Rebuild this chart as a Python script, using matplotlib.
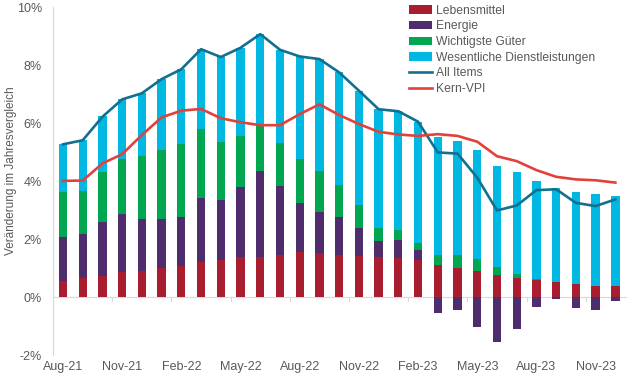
import numpy as np
import matplotlib
matplotlib.use("Agg")
import matplotlib.pyplot as plt
from matplotlib.ticker import FuncFormatter

months = ["Aug-21", "Sep-21", "Oct-21", "Nov-21", "Dec-21", "Jan-22", "Feb-22", "Mar-22",
          "Apr-22", "May-22", "Jun-22", "Jul-22", "Aug-22", "Sep-22", "Oct-22", "Nov-22",
          "Dec-22", "Jan-23", "Feb-23", "Mar-23", "Apr-23", "May-23", "Jun-23", "Jul-23",
          "Aug-23", "Sep-23", "Oct-23", "Nov-23", "Dec-23"]

# Beiträge zur Jahresteuerung (Prozentpunkte)
lebensmittel = [0.54, 0.66, 0.74, 0.86, 0.89, 0.99, 1.09, 1.22, 1.29, 1.37, 1.40, 1.47, 1.55, 1.52,
                1.47, 1.42, 1.40, 1.36, 1.27, 1.12, 1.02, 0.89, 0.77, 0.65, 0.58, 0.51, 0.44, 0.40, 0.37]
energie = [1.52, 1.51, 1.85, 2.02, 1.80, 1.69, 1.66, 2.19, 2.07, 2.42, 2.95, 2.36, 1.70, 1.41,
           1.29, 0.97, 0.53, 0.62, 0.37, -0.55, -0.44, -1.02, -1.56, -1.11, -0.33, -0.06, -0.39, -0.43, -0.15]
gueter = [1.57, 1.48, 1.71, 1.90, 2.17, 2.38, 2.53, 2.39, 2.00, 1.78, 1.55, 1.48, 1.50, 1.42,
          1.10, 0.78, 0.46, 0.32, 0.24, 0.35, 0.45, 0.44, 0.27, 0.16, 0.06, 0.0, 0.0, 0.0, 0.02]
dienste = [1.64, 1.76, 1.95, 2.04, 2.17, 2.46, 2.58, 2.75, 2.92, 3.03, 3.17, 3.22, 3.55, 3.86,
           3.92, 3.95, 4.09, 4.11, 4.17, 4.06, 3.90, 3.74, 3.48, 3.50, 3.36, 3.27, 3.19, 3.16, 3.10]

all_items = [5.27, 5.41, 6.22, 6.82, 7.03, 7.52, 7.86, 8.55, 8.28, 8.60, 9.07, 8.53, 8.30, 8.21,
             7.75, 7.12, 6.48, 6.41, 6.05, 4.99, 4.95, 4.12, 2.99, 3.16, 3.69, 3.72, 3.25, 3.14, 3.37]
kern_vpi = [4.01, 4.02, 4.61, 4.93, 5.59, 6.20, 6.43, 6.49, 6.17, 6.03, 5.93, 5.93, 6.31, 6.65,
            6.28, 5.97, 5.70, 5.61, 5.56, 5.62, 5.56, 5.36, 4.86, 4.69, 4.38, 4.15, 4.06, 4.03, 3.95]

series = [
    ("Lebensmittel", lebensmittel, "#A81E30"),
    ("Energie", energie, "#4F2C6B"),
    ("Wichtigste Güter", gueter, "#00A650"),
    ("Wesentliche Dienstleistungen", dienste, "#00B8E2"),
]

grey = "#595959"
plt.rcParams["font.family"] = ["Liberation Sans", "DejaVu Sans"]

fig = plt.figure(figsize=(6.4, 3.77), dpi=100)
ax = fig.add_axes([0.083, 0.058, 0.897, 0.923])

x = np.arange(len(months))
pos_bottom = np.zeros(len(months))
neg_bottom = np.zeros(len(months))
handles = []
for name, vals, col in series:
    v = np.array(vals)
    bottom = np.where(v >= 0, pos_bottom, neg_bottom)
    b = ax.bar(x, v, 0.42, bottom=bottom, color=col, label=name, zorder=2)
    handles.append(b)
    pos_bottom += np.clip(v, 0, None)
    neg_bottom += np.clip(v, None, 0)

l1, = ax.plot(x, all_items, color="#11708F", lw=1.9, label="All Items", zorder=3)
l2, = ax.plot(x, kern_vpi, color="#E2403B", lw=1.9, label="Kern-VPI", zorder=3)
handles += [l1, l2]

ax.axhline(0, color="#D9D9D9", lw=0.8, zorder=1)
ax.set_xlim(-0.5, 28.6)
ax.set_ylim(-2, 10)
ax.set_yticks(np.arange(-2, 11, 2))
ax.yaxis.set_major_formatter(FuncFormatter(lambda v, p: f"{v:.0f}%"))
ax.set_xticks(x[::3])
ax.set_xticklabels(months[::3])

for s in ["top", "right", "bottom"]:
    ax.spines[s].set_visible(False)
ax.spines["left"].set_color("#D9D9D9")
ax.tick_params(axis="y", length=0, labelsize=9, colors=grey, pad=8)
ax.tick_params(axis="x", length=0, labelsize=9, colors=grey, pad=4)

# kleine Teilstriche an der Nulllinie
for t in x[2::3] + 0.5:
    ax.plot([t, t], [0, -0.12], color="#D9D9D9", lw=0.8, zorder=1)

ax.set_ylabel("Veränderung im Jahresvergleich", fontsize=8.5, color=grey)
ax.yaxis.set_label_coords(-0.063, 0.53)

fig.legend(handles=handles, loc="upper left", bbox_to_anchor=(0.632, 1.0), frameon=False,
           fontsize=8.7, labelcolor=grey, handlelength=1.9, handletextpad=0.3,
           labelspacing=0.3, borderaxespad=0)

fig.savefig("out.png", dpi=100)
